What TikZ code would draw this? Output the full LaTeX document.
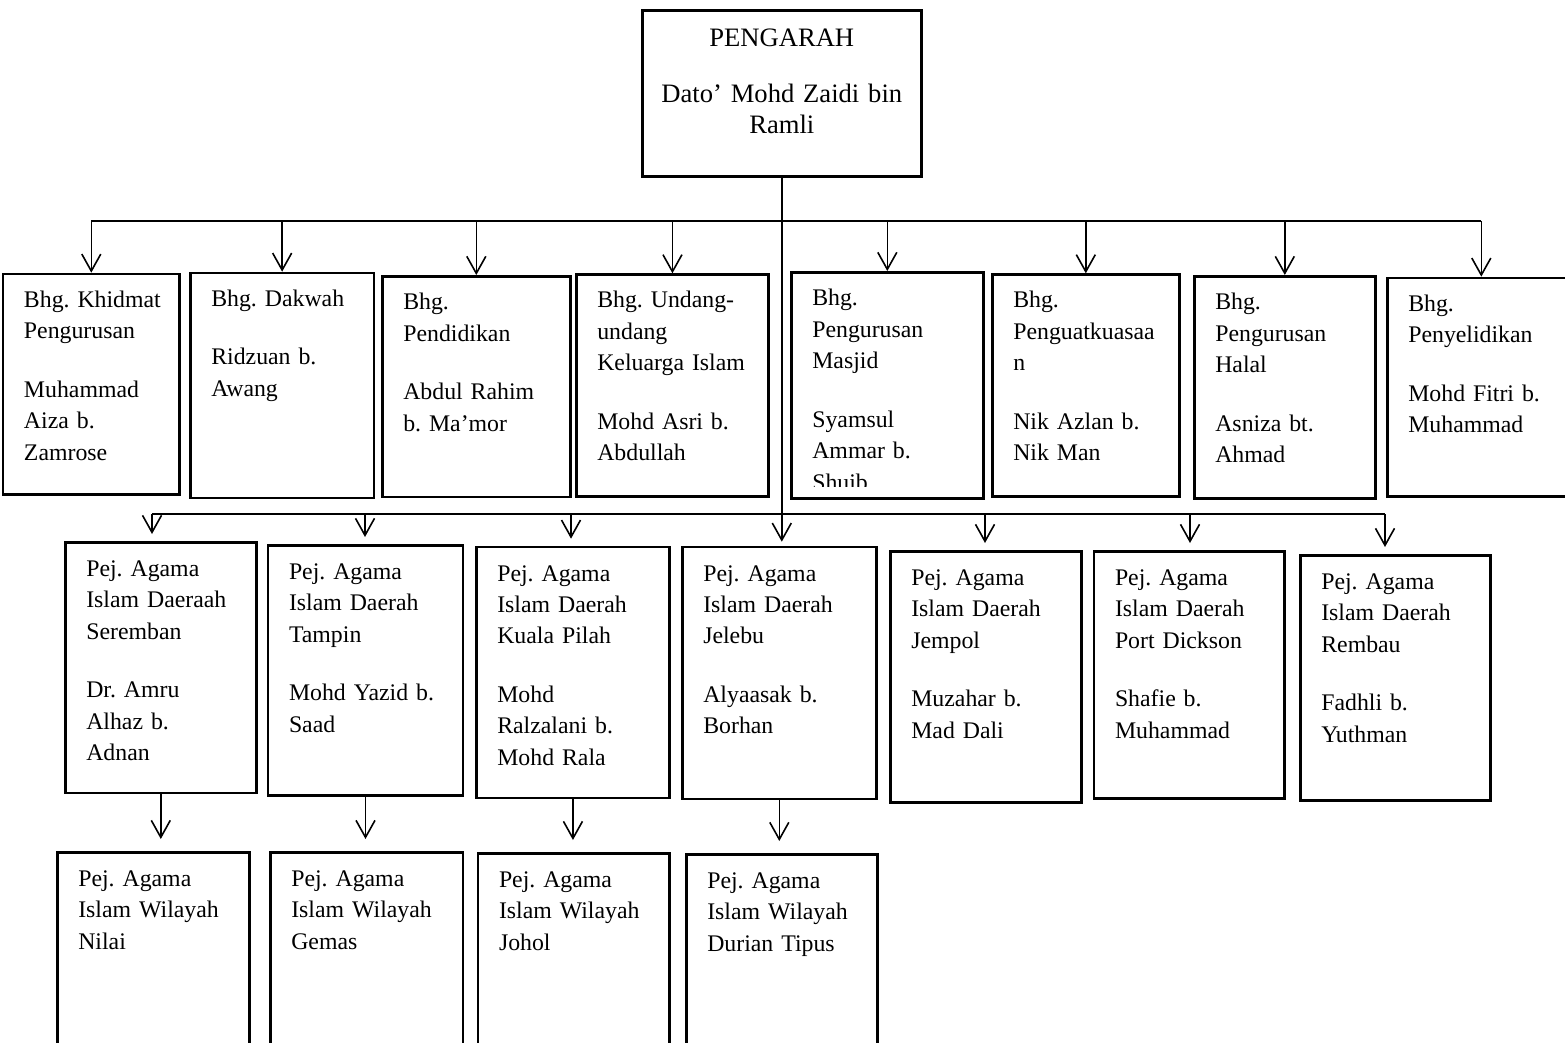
\documentclass[tikz,border=0pt]{standalone}
\usepackage{fontspec}
\setmainfont{Liberation Serif}
\usepackage{tikz}
\usetikzlibrary{arrows.meta,positioning,calc}

\tikzset{
  conn/.style={line width=0.8pt},
  arr/.style={conn, -{Straight Barb[length=8.5pt,width=9.5pt]}},
  box/.style={draw, line width=1.3pt, anchor=north west, inner xsep=10.5pt, inner ysep=0pt,
    align=left, font=\fontsize{11.9}{15.75}\selectfont},
  bhg/.style={box, text height=16.7pt},
  pej/.style={box, text height=17pt},
  head/.style={draw, line width=1.3pt, anchor=north west, inner xsep=5pt, inner ysep=0pt,
    align=center, text width=129.5pt, text height=18.35pt, text depth=64.65pt,
    font=\fontsize{13.3}{15.3}\selectfont},
}

\begin{document}
\frenchspacing
\hyphenpenalty=10000
\exhyphenpenalty=10000
\begin{tikzpicture}[x=0.5pt,y=-0.5pt]
        \useasboundingbox (0,0) rectangle (1565,1043);
        \clip (0,0) rectangle (1565,1043);

        % Director
        \node[head] (pengarah) at (641,9) {PENGARAH\\[12.7pt]Dato’ Mohd Zaidi bin\\Ramli};

        % Bahagian boxes
        \node[bhg, text width=67.3pt, text depth=93.6pt] (bKhidmat) at (1.7,272.7) {Bhg.~Khidmat\\Pengurusan\\[13.5pt]Muhammad\\Aiza b.\\Zamrose};
        \node[bhg, text width=70.85pt, text depth=95.8pt] (bDakwah) at (189,271.7) {Bhg. Dakwah\\[13.5pt]Ridzuan b.\\Awang};
        \node[bhg, text width=73pt, text depth=93.65pt] (bPendidikan) at (381,275) {Bhg.\\Pendidikan\\[13.5pt]Abdul Rahim\\b. Ma’mor};
        \node[bhg, text width=75.15pt, text depth=94.15pt] (bUndang) at (575,273.3) {Bhg. Undang-\\undang\\Keluarga Islam\\[13.5pt]Mohd Asri b.\\Abdullah};
        \node[bhg, text width=75pt, text depth=96.3pt] (bMasjid) at (790,271) {};
        \node[bhg, text width=72.5pt, text depth=94.15pt] (bPenguat) at (991,273.3) {Bhg.\\Penguatkuasaa\\n\\[13.5pt]Nik Azlan b.\\Nik Man};
        \node[bhg, text width=69.5pt, text depth=94.3pt] (bHalal) at (1193,275) {Bhg.\\Pengurusan\\Halal\\[13.5pt]Asniza bt.\\Ahmad};
        \node[bhg, text width=73pt, text depth=92.45pt] (bSelidik) at (1386,276.7) {Bhg.\\Penyelidikan\\[13.5pt]Mohd Fitri b.\\Muhammad};

        % Masjid text is cut off at the bottom
        \begin{scope}
            \clip (bMasjid.north west) rectangle ([yshift=6.5pt]bMasjid.south east);
            \node[bhg, draw=none, text width=75pt] (tMasjid) at (bMasjid.north west) {Bhg.\\Pengurusan\\Masjid\\[13.5pt]Syamsul\\Ammar b.\\Shuib};
        \end{scope}

        % Pejabat Agama Islam Daerah boxes
        \node[pej, text width=74.5pt, text depth=108.35pt] (pSeremban) at (64,541) {Pej. Agama\\Islam Daeraah\\Seremban\\[13.5pt]Dr. Amru\\Alhaz b.\\Adnan};
        \node[pej, text width=76.5pt, text depth=108pt] (pTampin) at (266.7,544) {Pej. Agama\\Islam Daerah\\Tampin\\[13.5pt]Mohd Yazid b.\\Saad};
        \node[pej, text width=75.65pt, text depth=108.5pt] (pKPilah) at (475,545.7) {Pej. Agama\\Islam Daerah\\Kuala Pilah\\[13.5pt]Mohd\\Ralzalani b.\\Mohd Rala};
        \node[pej, text width=76pt, text depth=109pt] (pJelebu) at (681,545.7) {Pej. Agama\\Islam Daerah\\Jelebu\\[13.5pt]Alyaasak b.\\Borhan};
        \node[pej, text width=74.5pt, text depth=108.5pt] (pJempol) at (889,550) {Pej. Agama\\Islam Daerah\\Jempol\\[13.5pt]Muzahar b.\\Mad Dali};
        \node[pej, text width=74.3pt, text depth=106.65pt] (pPDickson) at (1092.7,550) {Pej. Agama\\Islam Daerah\\Port Dickson\\[13.5pt]Shafie b.\\Muhammad};
        \node[pej, text width=74.15pt, text depth=105.65pt] (pRembau) at (1299,554) {Pej. Agama\\Islam Daerah\\Rembau\\[13.5pt]Fadhli b.\\Yuthman};

        % Pejabat Agama Islam Wilayah boxes
        \node[pej, text width=75pt, text depth=87.5pt] (wNilai) at (56,851) {Pej. Agama\\Islam Wilayah\\Nilai};
        \node[pej, text width=75.35pt, text depth=87.5pt] (wGemas) at (269,851) {Pej. Agama\\Islam Wilayah\\Gemas};
        \node[pej, text width=74.65pt, text depth=87.5pt] (wJohol) at (476.7,852) {Pej. Agama\\Islam Wilayah\\Johol};
        \node[pej, text width=74.5pt, text depth=87.5pt] (wDurian) at (685,853) {Pej. Agama\\Islam Wilayah\\Durian Tipus};

        % bus lines
        \coordinate (topbus) at (0,221);
        \coordinate (dSeremban) at (152,514);
        \coordinate (dTampin) at (365,514);
        \coordinate (dKPilah) at (571,514);
        \coordinate (dJempol) at (985,514);
        \coordinate (dPDickson) at (1190,514);
        \coordinate (dRembau) at (1385,514);

        \draw[conn] (bKhidmat.north |- topbus) -- (bSelidik.north |- topbus);
        \draw[conn] (dSeremban) -- (dRembau);

        % main trunk down to Jelebu
        \draw[arr, shorten >=2pt] (pengarah.south) -- (pengarah.south |- pJelebu.north);

        % arrows to the Bahagian
        \draw[arr] (bKhidmat.north |- topbus) -- (bKhidmat.north);
        \draw[arr] (bDakwah.north |- topbus) -- (bDakwah.north);
        \draw[arr] (bPendidikan.north |- topbus) -- (bPendidikan.north);
        \draw[arr] (bUndang.north |- topbus) -- (bUndang.north);
        \draw[arr] (bMasjid.north |- topbus) -- (bMasjid.north);
        \draw[arr] (bPenguat.north |- topbus) -- (bPenguat.north);
        \draw[arr] (bHalal.north |- topbus) -- (bHalal.north);
        \draw[arr] (bSelidik.north |- topbus) -- (bSelidik.north);

        % arrows to the Daerah offices
        \draw[arr, shorten >=3.5pt] (dSeremban) -- (dSeremban |- pSeremban.north);
        \draw[arr, shorten >=3.5pt] (dTampin) -- (dTampin |- pTampin.north);
        \draw[arr, shorten >=3.5pt] (dKPilah) -- (dKPilah |- pKPilah.north);
        \draw[arr, shorten >=3.5pt] (dJempol) -- (dJempol |- pJempol.north);
        \draw[arr, shorten >=3.5pt] (dPDickson) -- (dPDickson |- pPDickson.north);
        \draw[arr, shorten >=3.5pt] (dRembau) -- (dRembau |- pRembau.north);

        % arrows to the Wilayah offices
        \draw[arr, shorten >=6pt] (pSeremban.south) -- (pSeremban.south |- wNilai.north);
        \draw[arr, shorten >=6pt] (pTampin.south) -- (pTampin.south |- wGemas.north);
        \draw[arr, shorten >=6pt] (pKPilah.south) -- (pKPilah.south |- wJohol.north);
        \draw[arr, shorten >=6pt] (pJelebu.south) -- (pJelebu.south |- wDurian.north);
\end{tikzpicture}
\end{document}
